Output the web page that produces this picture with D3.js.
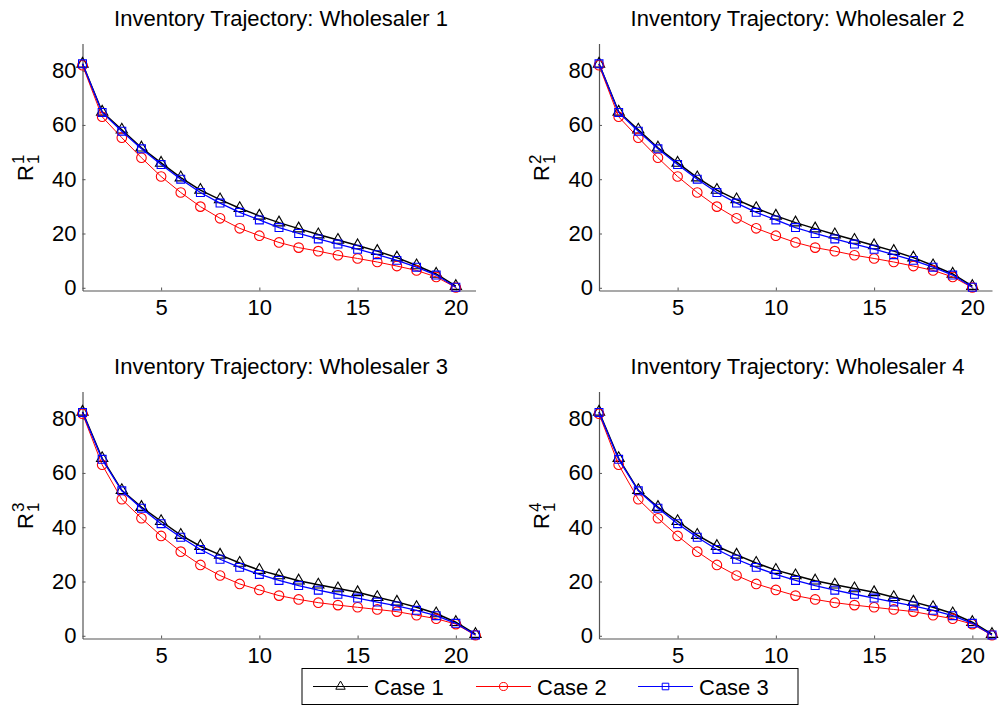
<!DOCTYPE html>
<html>
<head>
<meta charset="utf-8">
<script src="https://cdn.jsdelivr.net/npm/d3@7"></script>
<style>
  body { margin: 0; background: #fff; }
  svg text { font-family: "Liberation Sans", Arial, sans-serif; fill: #000; }
</style>
</head>
<body>
<div id="chart"></div>
<script>
// periods
var periods20 = d3.range(1, 21);
var periods21 = d3.range(1, 22);

// wholesaler 1 (20 periods)
var w1case1 = [82.5, 64.8, 58.2, 51.6, 46, 40.6, 36, 32.5, 29.3, 26.5, 24, 21.8, 19.6, 17.6, 15.6, 13.5, 11.1, 8.2, 5.1, 0.6];
var w1case2 = [82, 63, 55.3, 47.9, 41, 35.1, 29.9, 25.6, 21.9, 19.2, 16.7, 14.8, 13.5, 12, 10.8, 9.5, 8, 6.4, 4, 0.1];
var w1case3 = [82.5, 64.6, 57.7, 51.2, 45.4, 40, 35.1, 31.2, 27.8, 25, 22.2, 20, 18, 16.1, 14.2, 12.2, 10.1, 7.6, 4.7, 0.2];

// wholesaler 2 (20 periods)
var w2case1 = [82.5, 64.8, 58.2, 51.6, 46, 40.6, 36, 32.5, 29.3, 26.5, 24, 21.8, 19.6, 17.6, 15.6, 13.5, 11.1, 8.2, 5.1, 0.6];
var w2case2 = [82, 63, 55.3, 47.9, 41, 35.1, 29.9, 25.6, 21.9, 19.2, 16.7, 14.8, 13.5, 12, 10.8, 9.5, 8, 6.4, 4, 0.1];
var w2case3 = [82.5, 64.6, 57.7, 51.2, 45.4, 40, 35.1, 31.2, 27.8, 25, 22.2, 20, 18, 16.1, 14.2, 12.2, 10.1, 7.6, 4.7, 0.2];

// wholesaler 3 (21 periods)
var w3case1 = [82.5, 65.4, 53.6, 47.4, 42.2, 37.1, 33, 29.8, 26.8, 24.2, 22.2, 20.3, 18.8, 17.4, 16, 14.2, 12.5, 10.5, 8.2, 5, 0.6];
var w3case2 = [81.8, 63, 50.3, 43.3, 36.8, 31, 26.1, 22.2, 19.1, 16.9, 14.8, 13.4, 12.2, 11.3, 10.5, 9.7, 8.9, 7.6, 6.3, 4.3, 0.2];
var w3case3 = [82.3, 65, 53.4, 47, 41.3, 36.3, 31.8, 28.2, 25.2, 22.6, 20.4, 18.5, 16.8, 15.3, 13.9, 12.4, 11, 9.4, 7.4, 4.6, 0.3];

// wholesaler 4 (21 periods)
var w4case1 = [82.5, 65.4, 53.6, 47.4, 42.2, 37.1, 33, 29.8, 26.8, 24.2, 22.2, 20.3, 18.8, 17.4, 16, 14.2, 12.5, 10.5, 8.2, 5, 0.6];
var w4case2 = [81.8, 63, 50.3, 43.3, 36.8, 31, 26.1, 22.2, 19.1, 16.9, 14.8, 13.4, 12.2, 11.3, 10.5, 9.7, 8.9, 7.6, 6.3, 4.3, 0.2];
var w4case3 = [82.3, 65, 53.4, 47, 41.3, 36.3, 31.8, 28.2, 25.2, 22.6, 20.4, 18.5, 16.8, 15.3, 13.9, 12.4, 11, 9.4, 7.4, 4.6, 0.3];

var caseNames = ["Case 1", "Case 2", "Case 3"];
var xTicks = [5, 10, 15, 20];
var yTicks = [0, 20, 40, 60, 80];

var styles = [
  { color: "#000", width: 1.5, symbol: d3.symbolTriangle, size: 55 },
  { color: "#ff0000", width: 1, symbol: d3.symbolCircle, size: 72 },
  { color: "#0000ff", width: 1.3, symbol: d3.symbolSquare, size: 62 }
];

var panels = [
  { title: "Inventory Trajectory: Wholesaler 1", sup: "1", x: periods20, series: [w1case1, w1case2, w1case3], left: 82.5, top: 43.5 },
  { title: "Inventory Trajectory: Wholesaler 2", sup: "2", x: periods20, series: [w2case1, w2case2, w2case3], left: 599, top: 43.5 },
  { title: "Inventory Trajectory: Wholesaler 3", sup: "3", x: periods21, series: [w3case1, w3case2, w3case3], left: 82.5, top: 391.5 },
  { title: "Inventory Trajectory: Wholesaler 4", sup: "4", x: periods21, series: [w4case1, w4case2, w4case3], left: 599, top: 391.5 }
];

var width = 999, height = 706;
var pw = 393, ph = 247;
var axisColor = "#555";
var fs = 22;

var svg = d3.select("#chart")
  .append("svg")
    .attr("width", width)
    .attr("height", height);

panels.forEach(function(p) {
  var g = svg.append("g")
    .attr("transform", "translate(" + p.left + "," + p.top + ")");

  var x = d3.scaleLinear().domain([1, 21]).range([0, pw]);
  var y = d3.scaleLinear().domain([-1, 90]).range([ph, 0]);

  // x axis
  var xa = g.append("g")
    .attr("transform", "translate(0," + ph + ")")
    .call(d3.axisBottom(x).tickValues(xTicks).tickSizeInner(-3).tickSizeOuter(0).tickPadding(9));
  // y axis
  var ya = g.append("g")
    .call(d3.axisLeft(y).tickValues(yTicks).tickSizeInner(-3).tickSizeOuter(0).tickPadding(6));

  [xa, ya].forEach(function(a) {
    a.select(".domain").attr("stroke", axisColor).attr("stroke-width", 1.2);
    a.selectAll(".tick line").attr("stroke", axisColor);
    a.selectAll(".tick text")
      .attr("font-size", fs)
      .attr("font-family", "Liberation Sans, Arial, sans-serif")
      .attr("fill", "#000");
  });
  xa.selectAll(".tick text").attr("dy", "0.71em");

  // title
  g.append("text")
    .attr("x", pw / 2 + 2)
    .attr("y", -17.5)
    .attr("text-anchor", "middle")
    .attr("font-size", fs)
    .text(p.title);

  // y label R^k_1
  var yl = g.append("g")
    .attr("transform", "translate(-50," + (ph / 2) + ") rotate(-90)");
  yl.append("text").attr("x", -14).attr("y", 0).attr("font-size", fs).text("R");
  yl.append("text").attr("x", 3).attr("y", -8.5).attr("font-size", 17).text(p.sup);
  yl.append("text").attr("x", 3).attr("y", 6).attr("font-size", 17).text("1");

  var line = d3.line()
    .x(function(d, i) { return x(p.x[i]); })
    .y(function(d) { return y(d); });

  p.series.forEach(function(vals, si) {
    var s = styles[si];
    g.append("path")
      .datum(vals)
      .attr("fill", "none")
      .attr("stroke", s.color)
      .attr("stroke-width", s.width)
      .attr("d", line);

    g.append("g")
      .selectAll("path")
      .data(vals)
      .enter()
      .append("path")
        .attr("transform", function(d, i) { return "translate(" + x(p.x[i]) + "," + y(d) + ")"; })
        .attr("d", d3.symbol().type(s.symbol).size(s.size))
        .attr("fill", "none")
        .attr("stroke", s.color)
        .attr("stroke-width", 1.1);
  });
});

// legend
var legend = svg.append("g").attr("transform", "translate(302,668.5)");
legend.append("rect")
  .attr("width", 496)
  .attr("height", 36)
  .attr("fill", "#fff")
  .attr("stroke", "#000")
  .attr("stroke-width", 1);

var legX = [11, 174, 336];
caseNames.forEach(function(name, i) {
  var s = styles[i];
  var item = legend.append("g").attr("transform", "translate(" + legX[i] + ",18)");
  item.append("line")
    .attr("x1", 0).attr("x2", 55)
    .attr("stroke", s.color).attr("stroke-width", 1);
  item.append("path")
    .attr("transform", "translate(27.5,0)")
    .attr("d", d3.symbol().type(s.symbol).size(s.size * 0.7))
    .attr("fill", "none")
    .attr("stroke", s.color);
  item.append("text")
    .attr("x", 61)
    .attr("y", 8)
    .attr("font-size", fs)
    .text(name);
});
</script>
</body>
</html>
